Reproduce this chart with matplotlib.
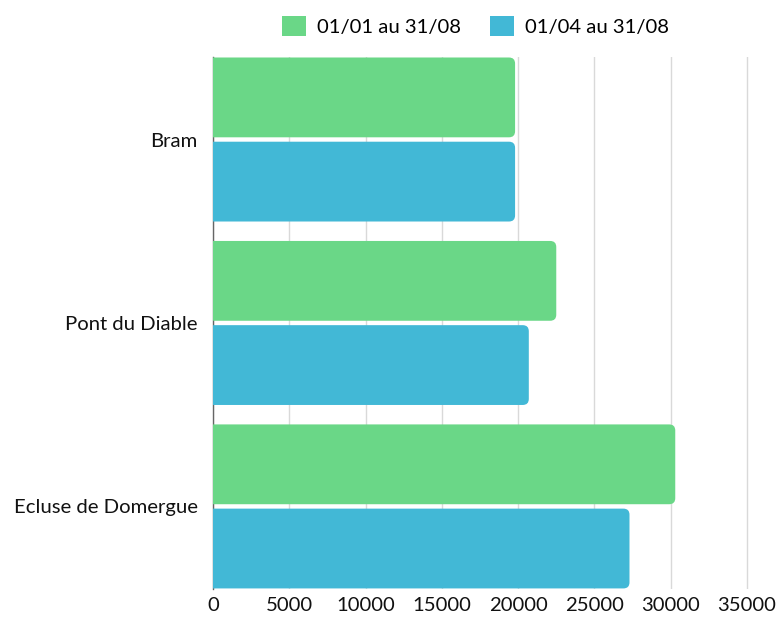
import matplotlib
matplotlib.use('Agg')
import matplotlib.pyplot as plt
from matplotlib.patches import FancyBboxPatch, Patch
import numpy as np

# données
sites = ['Bram', 'Pont du Diable', 'Ecluse de Domergue']
periode_1 = [19800, 22500, 30300]   # 01/01 au 31/08
periode_2 = [19800, 20700, 27300]   # 01/04 au 31/08
series_labels = ['01/01 au 31/08', '01/04 au 31/08']
xticks = [0, 5000, 10000, 15000, 20000, 25000, 30000, 35000]

vert = '#6AD787'
bleu = '#42B8D6'

plt.rcParams['font.family'] = ['Lato', 'DejaVu Sans']

fig = plt.figure(figsize=(7.78, 6.19), dpi=100)
ax = fig.add_axes([0.2738, 0.0485, 0.975 - 0.2738, 0.908 - 0.0485])

y = np.arange(len(sites))
h = 0.435
off = 0.2295
bars1 = ax.barh(y - off, periode_1, height=h, color=vert)
bars2 = ax.barh(y + off, periode_2, height=h, color=bleu)

# coins arrondis
r = 400
aspect = 0.033 / r
for bars, col in [(bars1, vert), (bars2, bleu)]:
    for b in bars:
        b.set_visible(False)
        x0, y0 = b.get_x(), b.get_y()
        w, hh = b.get_width(), b.get_height()
        p = FancyBboxPatch((x0 - 2 * r, y0), w + 2 * r, hh,
                           boxstyle='round,pad=0,rounding_size=%d' % r,
                           mutation_aspect=aspect, facecolor=col,
                           edgecolor='none', zorder=3)
        ax.add_patch(p)

ax.set_xlim(0, 35760)
ax.set_ylim(2.45, -0.45)
ax.set_xticks(xticks)
ax.set_xticklabels([str(t) for t in xticks])
ax.set_yticks(y)
ax.set_yticklabels(sites)
ax.tick_params(axis='both', length=0, labelsize=14.6, colors='#111111')
ax.tick_params(axis='y', pad=11)
ax.tick_params(axis='x', pad=6)

ax.grid(axis='x', color='#d9d9d9', linewidth=1)
ax.set_axisbelow(True)
for s in ['top', 'right', 'bottom']:
    ax.spines[s].set_visible(False)
ax.spines['left'].set_color('#666666')
ax.spines['left'].set_linewidth(1)
ax.spines['left'].set_zorder(1)

handles = [Patch(facecolor=vert, edgecolor='none'), Patch(facecolor=bleu, edgecolor='none')]
fig.legend(handles, series_labels, loc='center', bbox_to_anchor=(0.6112, 0.958),
           ncol=2, frameon=False, fontsize=14.6, handlelength=1.18, handleheight=1.18,
           handletextpad=0.55, columnspacing=1.43)

fig.savefig('out.png', dpi=100)
